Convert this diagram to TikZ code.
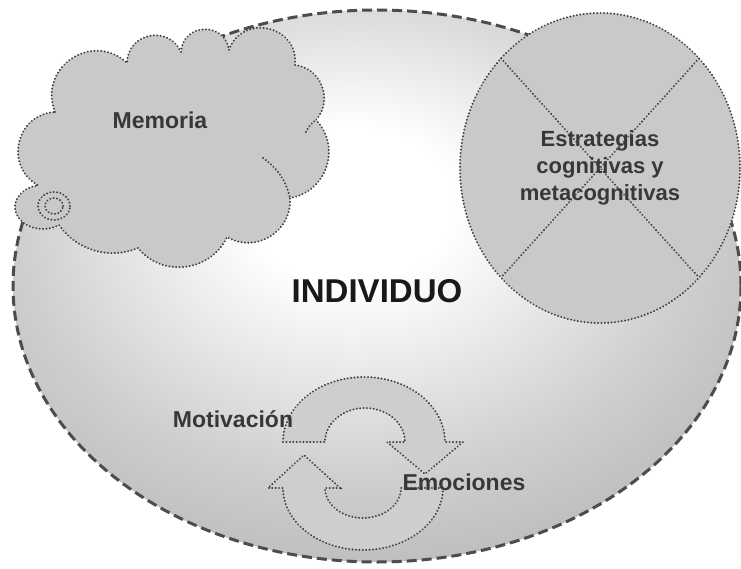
\documentclass[tikz,border=0pt]{standalone}
\usepackage{fontspec}
\setmainfont{Liberation Sans}
\usetikzlibrary{calc}
\definecolor{lblc}{HTML}{383838}
\definecolor{dotc}{HTML}{404040}
\definecolor{dashc}{HTML}{4C4C4C}
\definecolor{shA}{HTML}{CFCFCF}
\definecolor{shB}{HTML}{ADADAD}
\definecolor{shC}{HTML}{9C9C9C}
\definecolor{lightfill}{HTML}{C9C9C9}
\definecolor{arrfill}{HTML}{CECECE}
\pgfdeclareradialshading{indshade}{\pgfpoint{-2bp}{8bp}}{color(0bp)=(white); color(7bp)=(white); color(23bp)=(shA); color(38bp)=(shB); color(50bp)=(shC); color(80bp)=(shC)}
\tikzset{
  dotline/.style={draw=dotc, line width=2.1bp, dash pattern=on 0.1bp off 3.3bp, line cap=round},
  lbl/.style={text=lblc, font=\bfseries\fontsize{23bp}{27bp}\selectfont, inner sep=0pt},
}
\begin{document}
\begin{tikzpicture}[x=1bp,y=1bp]
\useasboundingbox (0,0) rectangle (741,-569);
% big ellipse
\shade[shading=indshade] (377,-286) ellipse [x radius=364, y radius=276];
\draw[draw=dashc, line width=3bp, dash pattern=on 10bp off 5bp] (377,-286) ellipse [x radius=364, y radius=276];
% circle
\coordinate (cc) at (600,-168);
\path[fill=lightfill] (cc) ellipse [x radius=140, y radius=155];
\draw[dotline] (cc) ellipse [x radius=140, y radius=155];
\draw[dotline] ($(cc)+(135:140 and 155)$) -- ($(cc)+(-45:140 and 155)$);
\draw[dotline] ($(cc)+(45:140 and 155)$) -- ($(cc)+(-135:140 and 155)$);
% cloud
\coordinate (c1) at (55,-112);
\coordinate (c2) at (127,-63);
\coordinate (c3) at (181,-52);
\coordinate (c4) at (229,-50);
\coordinate (c5) at (295,-65);
\coordinate (c6) at (316,-120);
\coordinate (c7) at (290,-198);
\coordinate (c8) at (227,-237);
\coordinate (c9) at (138,-248);
\coordinate (c10) at (59.06,-225.0);
\path[fill=lightfill, dotline] (c1)
  to[bend left=77,looseness=1.4] (c2)
  to[bend left=77,looseness=1.4] (c3)
  to[bend left=84,looseness=1.55] (c4)
  to[bend left=83,looseness=1.5] (c5)
  to[bend left=62,looseness=1.16] (c6)
  to[bend left=62,looseness=1.16] (c7)
  to[bend left=62,looseness=1.16] (c8)
  to[bend left=58,looseness=1.1] (c9)
  to[bend left=39,looseness=0.96] (c10)
  arc[start angle=-55, end angle=-260, x radius=28, y radius=22] coordinate (c11)
  to[bend left=74,looseness=1.33] (c1) -- cycle;
\draw[dotline] (263,-158) to[bend left=20] (c7);
\draw[dotline] (306,-132) to[bend left=15] (c6);
\coordinate (ring) at (54,-206);
\draw[dotline] (ring) ellipse [x radius=16, y radius=14];
\draw[dotline] (ring) ellipse [x radius=9, y radius=8];
% cycle arrows
\path[fill=arrfill, dotline] (283,-442) arc[start angle=180, end angle=0, x radius=81, y radius=65]
  -- (463,-442) -- (425,-474) -- (387,-442) -- (405,-442)
  arc[start angle=0, end angle=180, x radius=40, y radius=34] -- cycle;
\path[fill=arrfill, dotline] (443,-488) arc[start angle=0, end angle=-180, x radius=80, y radius=62]
  -- (268,-488) -- (304,-455) -- (340,-488) -- (325,-488)
  arc[start angle=180, end angle=360, x radius=38, y radius=30] -- cycle;
% labels
\node[lbl] (memoria) at (160,-120) {Memoria};
\node[lbl, anchor=base] (motiv) at (233,-427) {Motivación};
\node[lbl, anchor=base] (emoc) at (464,-490) {Emociones};
\node[lbl, align=center, font=\bfseries\fontsize{22bp}{27bp}\selectfont] (estr) at (600,-168) {Estrategias\\cognitivas y\\metacognitivas};
\node[text=black!90, font=\bfseries\fontsize{33bp}{36bp}\selectfont, inner sep=0pt] (indiv) at (377,-291) {INDIVIDUO};
\end{tikzpicture}
\end{document}
